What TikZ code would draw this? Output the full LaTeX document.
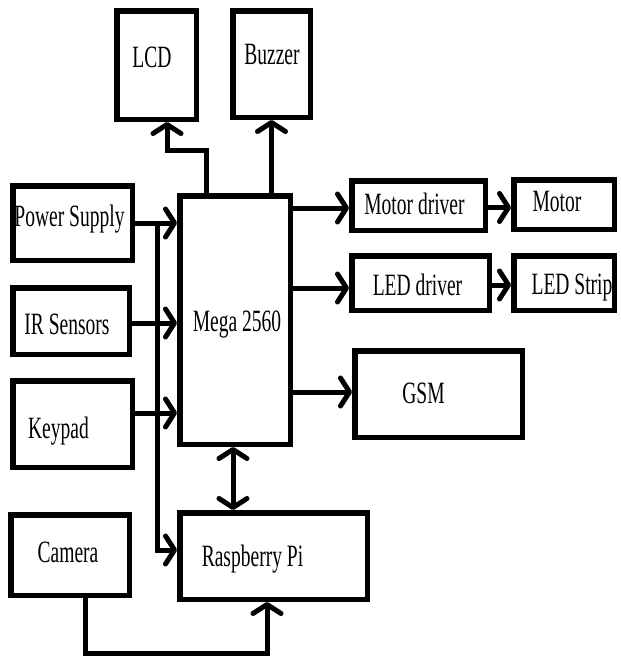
\documentclass[tikz,border=0pt]{standalone}
\usepackage{fontspec}
\setmainfont{Liberation Serif}[FakeStretch=0.63]
\usetikzlibrary{arrows.meta}

\tikzset{
  blk/.style={draw,line width=5.5pt,inner sep=0pt},
  every label/.style={font=\fontsize{31}{36}\selectfont,inner sep=0pt,
    text height=21pt,text depth=0pt},
  link/.style={line width=5pt,-{Straight Barb[length=9pt,width=28pt,round]}},
}

\begin{document}
\begin{tikzpicture}[x=1pt,y=-1pt]
\useasboundingbox (0,0) rectangle (621,659);
% blocks
\node[blk,minimum width=79.5pt,minimum height=108.5pt,
  label={[xshift=-4.5pt,yshift=8pt]center:LCD}] (lcd) at (156.5,65) {};
\node[blk,minimum width=77.5pt,minimum height=106.5pt,
  label={[xshift=0.5pt,yshift=10pt]center:Buzzer}] (buzzer) at (271.5,64) {};
\node[blk,minimum width=110.5pt,minimum height=248.5pt,
  label={[xshift=2pt,yshift=-1pt]center:Mega 2560}] (mega) at (235,320) {};
\node[blk,minimum width=119.5pt,minimum height=74.5pt,
  label={[xshift=-3pt,yshift=7pt]center:Power Supply}] (power) at (72.5,223) {};
\node[blk,minimum width=116.5pt,minimum height=66.5pt,
  label={[xshift=-4pt,yshift=-3pt]center:IR Sensors}] (ir) at (71,321) {};
\node[blk,minimum width=119.5pt,minimum height=86.5pt,
  label={[xshift=-14pt,yshift=-4pt]center:Keypad}] (keypad) at (72.5,424) {};
\node[blk,minimum width=118.5pt,minimum height=80.5pt,
  label={[xshift=-2pt,yshift=3pt]center:Camera}] (camera) at (70,555) {};
\node[blk,minimum width=187.5pt,minimum height=86.5pt,
  label={[xshift=-21pt]center:Raspberry Pi}] (rpi) at (273.5,556) {};
\node[blk,minimum width=133.5pt,minimum height=49.5pt,
  label={[xshift=-4pt,yshift=2pt]center:Motor driver}] (mdrv) at (418.5,205.5) {};
\node[blk,minimum width=100.5pt,minimum height=49.5pt,
  label={[xshift=-7pt,yshift=4pt]center:Motor}] (motor) at (564,204.5) {};
\node[blk,minimum width=137.5pt,minimum height=54.5pt,
  label={[xshift=-3pt,yshift=-2pt]center:LED driver}] (leddrv) at (420.5,283) {};
\node[blk,minimum width=100.5pt,minimum height=54.5pt,
  label={[xshift=8pt,yshift=-1pt]center:LED Strip}] (ledstrip) at (564,283) {};
\node[blk,minimum width=167.5pt,minimum height=86.5pt,
  label={[xshift=-15pt,yshift=1pt]center:GSM}] (gsm) at (438.5,394) {};

% bend points
\coordinate (lcdBend) at (206,150);
\coordinate (busTop) at (157,223);
\coordinate (busBot) at (157,550);
\coordinate (camBend) at (85,653);

% inputs
\draw[link] (power.east) -- (power.east -| mega.west);
\draw[link] ([yshift=-2pt]ir.east) -- ([yshift=-2pt]ir.east -| mega.west);
\draw[link] ([yshift=11pt]keypad.east) -- ([yshift=11pt]keypad.east -| mega.west);
\draw[link] (busTop) -- (busBot) -- (busBot -| rpi.west);

% outputs
\draw[link] (lcdBend |- mega.north) -- (lcdBend) -| ([xshift=10.5pt]lcd.south);
\draw[link] (buzzer.south |- mega.north) -- (buzzer.south);
\draw[link] ([yshift=-2.5pt]mdrv.west -| mega.east) -- ([yshift=-2.5pt]mdrv.west);
\draw[link] ([yshift=-5pt]leddrv.west -| mega.east) -- ([yshift=-5pt]leddrv.west);
\draw[link] ([yshift=2pt]gsm.west -| mega.east) -- ([yshift=2pt]gsm.west);
\draw[link] ([yshift=-2pt]mdrv.east) -- ([yshift=-2pt]mdrv.east -| motor.west);
\draw[link] ([yshift=-2pt]leddrv.east) -- ([yshift=-2pt]leddrv.east -| ledstrip.west);

% raspberry pi
\draw[line width=5pt,{Straight Barb[length=9pt,width=28pt,round]}-{Straight Barb[length=9pt,width=28pt,round]}]
  ([xshift=-2pt]mega.south) -- ([xshift=-2pt]mega.south |- rpi.north);
\draw[link] (camBend |- camera.south) -- (camBend) -| ([xshift=-6.5pt]rpi.south);
\end{tikzpicture}
\end{document}
